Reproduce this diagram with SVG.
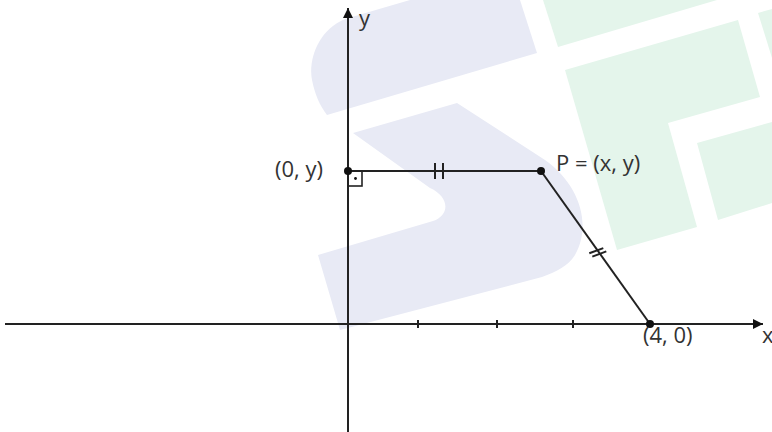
<svg xmlns="http://www.w3.org/2000/svg" width="772" height="432" viewBox="0 0 772 432">
<style>
.bg-blue{fill:#e8eaf5}
.bg-green{fill:#e4f5eb}
.ln{stroke:#222;stroke-width:2;fill:none}
.thin{stroke:#222;stroke-width:1.6;fill:none}
.dot{fill:#111}
.lbl{font-family:"Open Sans","Noto Sans",sans-serif;font-size:22px;fill:#333}
</style>
<defs>
<marker id="arr" viewBox="0 0 10 10" refX="10" refY="5" markerWidth="10" markerHeight="10" markerUnits="userSpaceOnUse" orient="auto">
<path d="M0,0 L10,5 L0,10 Z" fill="#111"/>
</marker>
</defs>
<g id="background">
<path class="bg-blue" d="M327,115 L537,53 L520,0 L410,0 L345,19 C318,30 308,60 312,80 C315,95 320,106 327,115 Z"/>
<path class="bg-blue" d="M353,133 L457,103 L545,160 C580,185 592,225 575,255 C568,266 556,272 542,277 L340,330 L318,255 L433,221 C450,215 450,197 430,188 Z"/>
<path class="bg-green" d="M543,0 L558,47 L717,0 Z"/>
<path class="bg-green" d="M565,70 L738,20 L760,97 L668,123 L697,227 L617,250 Z"/>
<path class="bg-green" d="M758,13 L772,9 L772,58 Z"/>
<path class="bg-green" d="M697,143 L772,122 L772,203 L718,220 Z"/>
</g>
<g id="axes">
<line class="ln" x1="5" y1="324" x2="763" y2="324" marker-end="url(#arr)"/>
<line class="ln" x1="348" y1="432" x2="348" y2="8" marker-end="url(#arr)"/>
<line class="ln" x1="418" y1="320" x2="418" y2="328"/>
<line class="ln" x1="497" y1="320" x2="497" y2="328"/>
<line class="ln" x1="573" y1="320" x2="573" y2="328"/>
<text class="lbl" x="359" y="26">y</text>
<text class="lbl" x="762" y="343">x</text>
</g>
<g id="connectors">
<line class="ln" x1="348" y1="171" x2="541" y2="171"/>
<line class="ln" x1="541" y1="171" x2="650" y2="324"/>
<line class="ln" x1="435" y1="163" x2="435" y2="179"/>
<line class="ln" x1="443" y1="163" x2="443" y2="179"/>
<line class="ln" x1="589.3" y1="253.3" x2="603.3" y2="248.1"/>
<line class="ln" x1="592.3" y1="256.6" x2="606.3" y2="251.4"/>
<rect class="thin" x="348" y="171" width="14" height="15"/>
<circle class="dot" cx="355.5" cy="178.5" r="1.4"/>
</g>
<g id="node-0y">
<circle class="dot" cx="348" cy="171" r="4"/>
<text class="lbl" x="275" y="177">(0, y)</text>
</g>
<g id="node-P">
<circle class="dot" cx="541" cy="171" r="4"/>
<text class="lbl" x="556" y="171">P = (x, y)</text>
</g>
<g id="node-40">
<circle class="dot" cx="650" cy="324" r="4"/>
<text class="lbl" x="643" y="343">(4, 0)</text>
</g>
</svg>
